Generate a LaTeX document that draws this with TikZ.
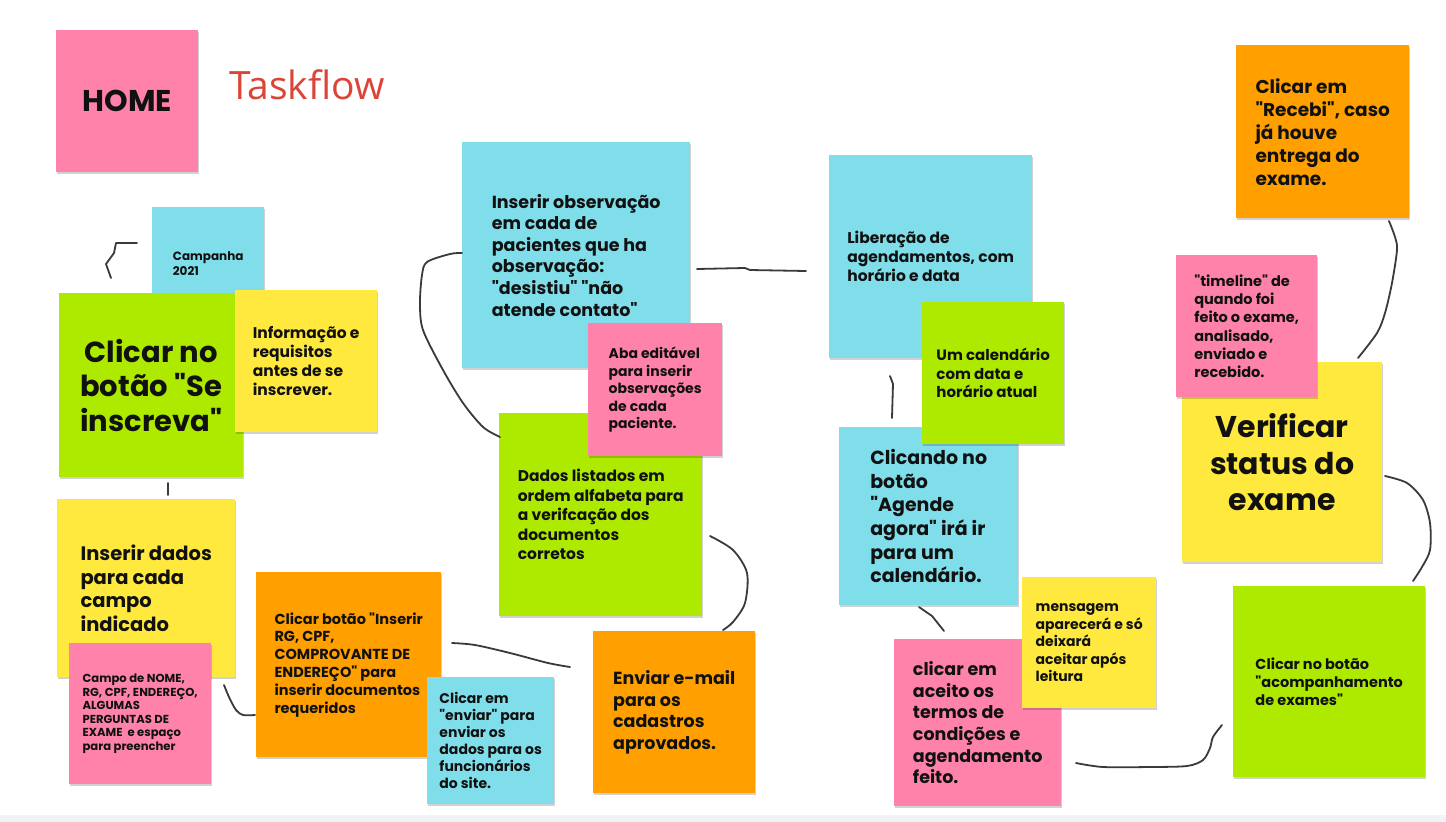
\documentclass[tikz,border=0pt]{standalone}
\usepackage{fontspec}
\setmainfont{Poppins}[Ligatures=TeXOff]
\newfontfamily\titlefont{Open Sans}
\usetikzlibrary{shadows}
\definecolor{notepink}{HTML}{FF82AA}
\definecolor{notecyan}{HTML}{80DEEA}
\definecolor{notegreen}{HTML}{AEEA00}
\definecolor{noteyellow}{HTML}{FFE93F}
\definecolor{noteorange}{HTML}{FFA000}
\definecolor{notetext}{HTML}{111111}
\definecolor{linkgray}{HTML}{3A3A3A}
\definecolor{taskred}{HTML}{DB4437}
\definecolor{bandgray}{HTML}{F1F3F4}
\tikzset{
 note/.style={anchor=north west,align=left,inner sep=0pt,text=notetext,
   drop shadow={shadow xshift=.6pt,shadow yshift=-1.4pt,opacity=.18,fill=black}},
 note pink/.style={note,fill=notepink},
 note cyan/.style={note,fill=notecyan},
 note green/.style={note,fill=notegreen},
 note yellow/.style={note,fill=noteyellow},
 note orange/.style={note,fill=noteorange},
 note size/.style 2 args={minimum width=#1pt,minimum height=#2pt},
 fs/.style 2 args={font=\fontsize{#1}{#2}\selectfont\bfseries},
 tf link/.style={draw=linkgray,line width=1.8pt,line cap=round,line join=round}
}

\begin{document}
\begin{tikzpicture}[x=1pt,y=-1pt]
\useasboundingbox (0,0) rectangle (1446,822);
\fill[white] (0,0) rectangle (1446,822);
\fill[bandgray] (0,815) rectangle (1446,822);

% titulo
\node[note pink,note size={142}{142},fs={30}{36},align=center] (home) at (56,30) {HOME};
\node[anchor=base west,inner sep=0pt,text=taskred,font=\titlefont\fontsize{39}{45}\selectfont]
  (title) at (229,99) {Taskflow};

% inscricao
\node[note cyan,note size={112}{113},fs={12}{15}] (campanha) at (152,207) {Campanha\\2021};
\node[note green,note size={184}{184},fs={29}{34.5},align=center] (clicar) at (59,293)
  {Clicar no\\botão "Se\\inscreva"};
\node[note yellow,note size={142}{142},fs={15.5}{19}] (info) at (235,290)
  {Informação e\\requisitos\\antes de se\\inscrever.};
\node[note yellow,note size={178}{178},fs={19.5}{23.5}] (dados) at (57,499)
  {Inserir dados\\para cada\\campo\\indicado};
\node[note pink,note size={142}{141},fs={11.6}{13.6}] (campo) at (69,643)
  {Campo de NOME,\\RG, CPF, ENDEREÇO,\\ALGUMAS\\PERGUNTAS DE\\EXAME\ \ e espaço\\para preencher};
\node[note orange,note size={185}{185},fs={14.5}{17.8}] (botao) at (256,572)
  {Clicar botão "Inserir\\RG, CPF,\\COMPROVANTE DE\\ENDEREÇO" para\\inserir documentos\\requeridos};
\node[note cyan,note size={127}{127},fs={14}{17}] (enviar) at (427,677)
  {Clicar em\\"enviar" para\\enviar os\\dados para os\\funcionários\\do site.};

% verificacao
\node[note cyan,note size={228}{226},fs={17.5}{21.6}] (obs) at (462,142)
  {Inserir observação\\em cada de\\pacientes que ha\\observação:\\"desistiu" "não\\atende contato"};
\node[note green,note size={203}{203},fs={15.5}{19.5}] (lista) at (499,413)
  {Dados listados em\\ordem alfabeta para\\a verifcação dos\\documentos\\corretos};
\node[note pink,note size={134}{133},fs={14}{17.5}] (aba) at (588,323)
  {Aba editável\\para inserir\\observações\\de cada\\paciente.};
\node[note orange,note size={162}{162},fs={17.5}{21.7}] (email) at (593,631)
  {Enviar e-mail\\para os\\cadastros\\aprovados.};

% agendamento
\node[note cyan,note size={203}{203},fs={15.5}{19}] (liberacao) at (829,155)
  {Liberação de\\agendamentos, com\\horário e data};
\node[note cyan,note size={179}{178},fs={19}{23.6}] (agende) at (839,427)
  {Clicando no\\botão\\"Agende\\agora" irá ir\\para um\\calendário.};
\node[note green,note size={142}{142},fs={15}{18.5}] (calendario) at (922,302)
  {Um calendário\\com data e\\horário atual};
\node[note pink,note size={167}{167},fs={17.5}{21.7}] (termos) at (894,639)
  {clicar em\\aceito os\\termos de\\condições e\\agendamento\\feito.};
\node[note yellow,note size={134}{131},fs={14}{17.5}] (mensagem) at (1022,577)
  {mensagem\\aparecerá e só\\deixará\\aceitar após\\leitura};

% status do exame
\node[note yellow,note size={200}{200},fs={30}{36.5},align=center] (verificar) at (1182,362)
  {Verificar\\status do\\exame};
\node[note pink,note size={141}{142},fs={14.5}{18.2}] (timeline) at (1176,255)
  {"timeline" de\\quando foi\\feito o exame,\\analisado,\\enviado e\\recebido.};
\node[note orange,note size={173}{173},fs={18.5}{23}] (recebi) at (1236,45)
  {Clicar em\\"Recebi", caso\\já houve\\entrega do\\exame.};
\node[note green,note size={192}{191},fs={14.5}{18.3}] (acomp) at (1233,586)
  {Clicar no botão\\"acompanhamento\\de exames"};

% ligacoes
\coordinate (campanhaW) at (137,243);
\coordinate (clicarN) at (111,278);
\coordinate (clicarS) at (168,483);
\coordinate (dadosN) at (168,495);
\coordinate (campoE) at (224,685);
\coordinate (botaoW) at (255,715);
\coordinate (botaoE) at (452,643);
\coordinate (emailW) at (570,667);
\coordinate (obsW) at (462,253);
\coordinate (listaW) at (500,437);
\coordinate (obsE) at (697,269);
\coordinate (liberacaoW) at (806,271);
\coordinate (listaE) at (710,536);
\coordinate (emailN) at (723,630);
\coordinate (liberacaoS) at (890,376);
\coordinate (agendeN) at (892,418);
\coordinate (agendeS) at (919,607);
\coordinate (termosN) at (944,631);
\coordinate (termosE) at (1076,763);
\coordinate (acompW) at (1222,725);
\coordinate (verificarE) at (1385,476);
\coordinate (acompN) at (1413,581);
\coordinate (recebiS) at (1389,221);
\coordinate (verificarN) at (1358,358);

\draw[tf link] (campanhaW) -- (116,243) -- (114,253) -- (106,264) -- (clicarN);
\draw[tf link] (clicarS) -- (dadosN);
\draw[tf link] plot[smooth] coordinates {(campoE) (229,697) (236,710) (243,715) (botaoW)};
\draw[tf link] plot[smooth] coordinates {(botaoE) (475,645) (510,653) (548,663) (emailW)};
\draw[tf link] plot[smooth] coordinates {(obsW) (450,254) (427,262) (422,275) (420,303)
  (423,330) (443,370) (463,403) (483,427) (listaW)};
\draw[tf link] (obsE) -- (745,268) -- (750,270) -- (liberacaoW);
\draw[tf link] plot[smooth] coordinates {(listaE) (733,550) (747,573) (745,603) (733,622) (emailN)};
\draw[tf link] (liberacaoS) -- (893,384) -- (agendeN);
\draw[tf link] (agendeS) -- (932,616) -- (termosN);
\draw[tf link] plot[smooth] coordinates {(termosE) (1103,767) (1150,767) (1187,766)
  (1203,760) (1210,748) (1213,737) (acompW)};
\draw[tf link] plot[smooth] coordinates {(verificarE) (1407,483) (1423,500) (1430,523)
  (1430,550) (1422,567) (acompN)};
\draw[tf link] plot[smooth] coordinates {(recebiS) (1395,237) (1397,250) (1392,283)
  (1385,313) (1377,333) (verificarN)};
\end{tikzpicture}
\end{document}
